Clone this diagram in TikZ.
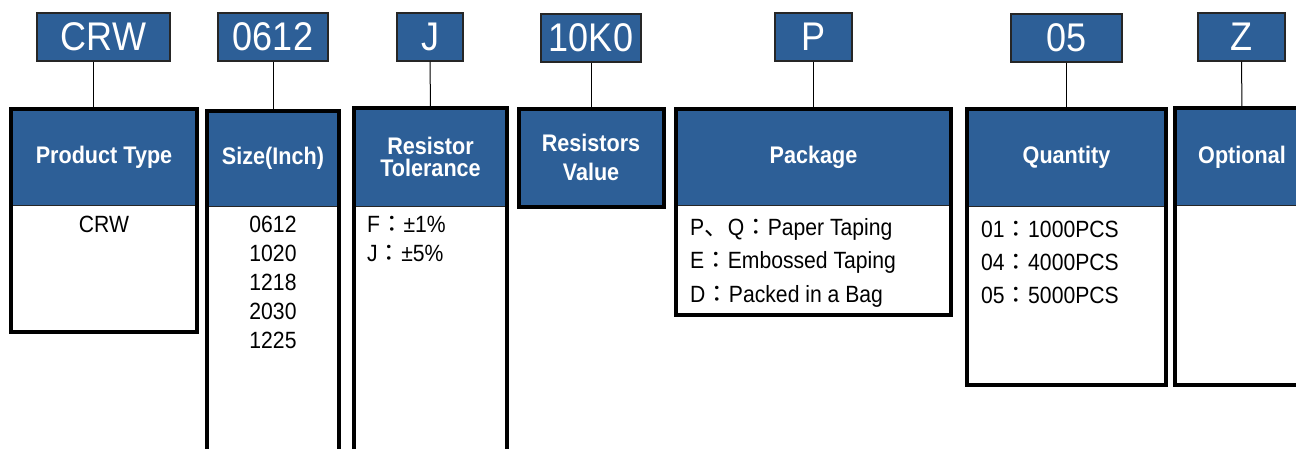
\documentclass[tikz,border=0pt]{standalone}
\usepackage{fontspec}
\setmainfont{Liberation Sans}[FakeStretch=0.9]
\newfontfamily\cjk{Noto Sans CJK JP}
\usetikzlibrary{positioning}
\definecolor{pnblue}{RGB}{45,95,151}
\tikzset{
  code/.style={draw=black!85, line width=1.2pt, fill=pnblue, text=white, inner sep=0pt,
    minimum height=48pt, font=\fontsize{40}{40}\selectfont},
  head/.style={draw=black!85, line width=1pt, fill=pnblue, text=white, inner sep=0pt,
    align=center, font=\fontsize{24}{22}\selectfont\bfseries},
  body/.style={inner sep=0pt},
  frame/.style={line width=4pt},
  link/.style={line width=1pt},
  item/.style={inner sep=0pt, font=\fontsize{23.5}{29}\selectfont}
}

\begin{document}
\begin{tikzpicture}[x=1pt, y=-1pt]
  \useasboundingbox (0,0) rectangle (1296,448);
  % part number fields
  \node[code, minimum width=133pt] (c1) at (103.5,37) {CRW};
  \node[code, minimum width=110pt] (c2) at (273,37) {0612};
  \node[code, minimum width=66pt] (c3) at (430,37) {J};
  \node[code, minimum width=100pt] (c4) at (591,38) {10K0};
  \node[code, minimum width=77pt] (c5) at (813.5,37) {P};
  \node[code, minimum width=111pt] (c6) at (1066.5,38) {05};
  \node[code, minimum width=87pt] (c7) at (1241.5,37) {Z};

  % headers
  \node[head, minimum width=186pt, minimum height=96pt] (h1) at (104,157) {Product Type};
  \node[head, minimum width=132pt, minimum height=95pt] (h2) at (273,158.5) {Size(Inch)};
  \node[head, minimum width=153pt, minimum height=98pt] (h3) at (430.5,157) {Resistor\\Tolerance};
  \node[head, minimum width=144pt, minimum height=97pt, font=\fontsize{24}{29}\selectfont\bfseries]
    (h4) at (591,157.5) {Resistors\\Value};
  \node[head, minimum width=275pt, minimum height=96pt] (h5) at (813.5,157) {Package};
  \node[head, minimum width=199pt, minimum height=97pt] (h6) at (1066.5,157.5) {Quantity};
  \node[head, minimum width=134pt, minimum height=97pt] (h7) at (1242,157) {Optional};

  % bodies
  \node[body, below=0pt of h1, minimum width=186pt, minimum height=126pt] (b1) {};
  \node[body, below=0pt of h2, minimum width=132pt, minimum height=264pt] (b2) {};
  \node[body, below=0pt of h3, minimum width=153pt, minimum height=264pt] (b3) {};
  \node[body, below=0pt of h5, minimum width=275pt, minimum height=109pt] (b5) {};
  \node[body, below=0pt of h6, minimum width=199pt, minimum height=178pt] (b6) {};
  \node[body, below=0pt of h7, minimum width=134pt, minimum height=178.5pt] (b7) {};

  \foreach \i in {1,2,3,5,6,7}
    \draw[frame] (h\i.north west) rectangle (b\i.south east);
  \draw[frame] (h4.north west) rectangle (h4.south east);

  % links
  \draw[link] ([xshift=-10pt]c1.south) -- ([xshift=-10pt]c1.south |- h1.north);
  \foreach \i in {2,...,7}
    \draw[link] (c\i.south) -- (h\i.north);

  % contents
  \node[item, anchor=base] (t1) at (104,232) {CRW};
  \foreach \s [count=\i] in {0612,1020,1218,2030,1225}
    \node[item, anchor=base] (s\i) at (273,{232+29*(\i-1)}) {\s};
  \foreach \s [count=\i] in {F{\cjk ：}±1\%, J{\cjk ：}±5\%}
    \node[item, anchor=base west] (r\i) at (367,{232+29*(\i-1)}) {\s};
  \foreach \s [count=\i] in {P{\cjk 、}Q{\cjk ：}Paper Taping, E{\cjk ：}Embossed Taping, D{\cjk ：}Packed in a Bag}
    \node[item, anchor=base west] (p\i) at (690,{235+33.5*(\i-1)}) {\s};
  \foreach \s [count=\i] in {01{\cjk ：}1000PCS, 04{\cjk ：}4000PCS, 05{\cjk ：}5000PCS}
    \node[item, anchor=base west] (q\i) at (981,{237+33*(\i-1)}) {\s};
\end{tikzpicture}
\end{document}
